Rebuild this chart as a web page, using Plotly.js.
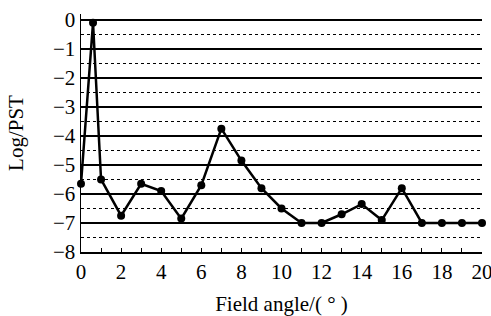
<!DOCTYPE html>
<html><head><meta charset="utf-8">
<script src="https://cdn.plot.ly/plotly-3.0.1.min.js"></script>
<style>html,body{margin:0;padding:0;background:#fff}</style>
</head><body><div id="c" style="width:491px;height:316px"></div>
<script>
const fieldAngle = [0, 0.6, 1, 2, 3, 4, 5, 6, 7, 8, 9, 10, 11, 12, 13, 14, 15, 16, 17, 18, 19, 20];
const logPST = [-5.65, -0.1, -5.5, -6.75, -5.65, -5.9, -6.85, -5.7, -3.75, -4.85, -5.8, -6.5, -7, -7, -6.7, -6.35, -6.9, -5.8, -7, -7, -7, -7];
const xTickVals = [0, 2, 4, 6, 8, 10, 12, 14, 16, 18, 20];
const yTickVals = [0, -1, -2, -3, -4, -5, -6, -7, -8];
const yTickText = yTickVals.map(v => v === 0 ? '0' : '\u2212' + Math.abs(v));

const font = {family: 'Liberation Serif, Times New Roman, serif', color: '#000'};
Plotly.newPlot('c', [{
  x: fieldAngle, y: logPST, mode: 'lines+markers', type: 'scatter',
  line: {color: '#000', width: 2.5},
  marker: {color: '#000', size: 8},
  cliponaxis: false, showlegend: false
}], {
  width: 491, height: 316,
  margin: {l: 81, r: 9, t: 14, b: 64},
  paper_bgcolor: '#fff', plot_bgcolor: '#fff',
  font: Object.assign({size: 21}, font),
  xaxis: {
    range: [0, 20], tickvals: xTickVals, ticktext: xTickVals.map(String),
    showline: true, linecolor: '#000', linewidth: 1.5,
    ticks: 'inside', ticklen: 4, tickcolor: '#000', tickwidth: 1,
    minor: {dtick: 1, ticks: 'inside', ticklen: 4, tickcolor: '#000'},
    showgrid: false, zeroline: false, ticklabeloverflow: 'allow',
    tickfont: Object.assign({size: 21}, font),
    title: {text: 'Field angle/( \u00b0 )', font: Object.assign({size: 21}, font), standoff: 14}
  },
  yaxis: {
    range: [-8, 0.2], tickvals: yTickVals, ticktext: yTickText,
    showline: true, linecolor: '#000', linewidth: 1.5,
    ticks: '', showgrid: true, gridcolor: '#000', gridwidth: 1.5,
    minor: {dtick: 0.5, tick0: 0, showgrid: true, gridcolor: '#000', griddash: 'dot', gridwidth: 1},
    zeroline: false, ticklabeloverflow: 'allow',
    tickfont: Object.assign({size: 21}, font),
    title: {text: 'Log/PST', font: Object.assign({size: 21}, font), standoff: 23}
  }
}, {displayModeBar: false, staticPlot: true});
</script></body></html>
